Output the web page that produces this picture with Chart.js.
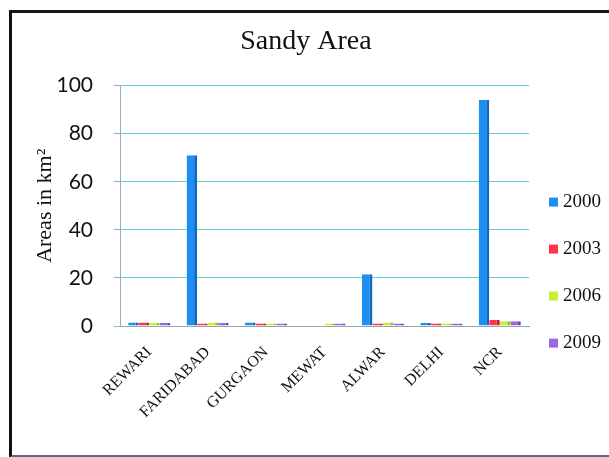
<!DOCTYPE html>
<html>
<head>
<meta charset="utf-8">
<script src="https://cdn.jsdelivr.net/npm/chart.js@4/dist/chart.umd.min.js"></script>
<style>
  html, body { margin: 0; padding: 0; background: #fff; }
  body { width: 609px; height: 457px; position: relative; overflow: hidden; }
  #frame {
    position: absolute; left: 9px; top: 10px; width: 720px; height: 442px;
    border-left: 3px solid #111; border-top: 3px solid #151515;
    border-bottom: 3px solid #56707a; pointer-events: none;
  }
  #chart { position: absolute; left: 0; top: 0; }
</style>
</head>
<body>
<canvas id="chart" width="609" height="457"></canvas>
<div id="frame"></div>
<script>
// Sandy area per district, km²
const districts = ['REWARI', 'FARIDABAD', 'GURGAON', 'MEWAT', 'ALWAR', 'DELHI', 'NCR'];
const years = ['2000', '2003', '2006', '2009'];
const area2000 = [1.5, 71, 1.5, 0, 21.5, 1.2, 94];
const area2003 = [1.5, 1, 1, 0, 1, 1, 2.5];
const area2006 = [1.2, 1.5, 1, 1, 1.5, 1, 2];
const area2009 = [1.2, 1.2, 1, 1, 1, 1, 2];
const yTicks = [0, 20, 40, 60, 80, 100];

const fills = ['#1e8ff0', '#ff3446', '#c6ef38', '#9a68e0'];
const sides = ['#0d68c2', '#c81e30', '#98c020', '#6e44b0'];
const seriesValues = [area2000, area2003, area2006, area2009];
const serif = '"Liberation Serif", "Times New Roman", serif';

// Legend drawn as a tall, widely spaced column in the space kept free right of the plot
const sideLegend = {
  id: 'sideLegend',
  afterDraw(chart) {
    const { ctx, chartArea } = chart;
    ctx.save();
    ctx.font = '19px ' + serif;
    ctx.textBaseline = 'middle';
    ctx.textAlign = 'left';
    chart.data.datasets.forEach((ds, i) => {
      const cy = chartArea.top + 117 + i * 47;
      const bx = chartArea.right + 20;
      ctx.fillStyle = ds.backgroundColor;
      ctx.fillRect(bx, cy - 5, 9, 9);
      ctx.fillStyle = '#111';
      ctx.fillText(ds.label, bx + 14, cy - 1);
    });
    ctx.restore();
  }
};

new Chart(document.getElementById('chart'), {
  type: 'bar',
  data: {
    labels: districts,
    datasets: years.map((y, i) => ({
      label: y,
      data: seriesValues[i],
      backgroundColor: fills[i],
      borderColor: sides[i],
      borderWidth: { top: 0, left: 0, bottom: 0, right: 3 },
      borderSkipped: false,
      categoryPercentage: 0.72,
      barPercentage: 1.0
    }))
  },
  options: {
    responsive: false,
    animation: false,
    layout: { padding: { left: 13, right: 10, top: 0, bottom: 3 } },
    plugins: {
      legend: { display: false },
      tooltip: { enabled: false },
      title: {
        display: true,
        text: 'Sandy Area',
        color: '#111',
        font: { family: serif, size: 28, weight: 'normal' },
        padding: { top: 25, bottom: 27 }
      }
    },
    scales: {
      x: {
        grid: { display: false },
        border: { display: true, color: '#8fa9b0' },
        ticks: {
          color: '#111',
          font: { family: serif, size: 16 },
          minRotation: 45,
          maxRotation: 45,
          padding: 9
        },
        afterFit(scale) { scale.height = 128; }
      },
      y: {
        min: 0,
        max: 100,
        afterBuildTicks(scale) { scale.ticks = yTicks.map(v => ({ value: v })); },
        grid: {
          color: ctx => (ctx.tick && ctx.tick.value === 0) ? '#8fa9b0' : '#5fd0df',
          tickColor: '#8fb0c8',
          tickLength: 6
        },
        border: { display: true, color: '#8fb0c8' },
        ticks: {
          color: '#111',
          font: { family: 'Lato, "Open Sans", sans-serif', size: 21 },
          padding: 21
        },
        title: {
          display: true,
          text: 'Areas in km²',
          color: '#111',
          font: { family: serif, size: 22 },
          padding: { top: 19, bottom: 0 }
        },
        afterFit(scale) { scale.width = 107; }
      },
      // empty right-hand axis that only reserves room for the legend column
      legendSpace: {
        type: 'linear',
        position: 'right',
        display: true,
        grid: { display: false, drawTicks: false },
        border: { display: false },
        ticks: { display: false },
        afterFit(scale) { scale.width = 70; }
      }
    }
  },
  plugins: [sideLegend]
});
</script>
</body>
</html>
